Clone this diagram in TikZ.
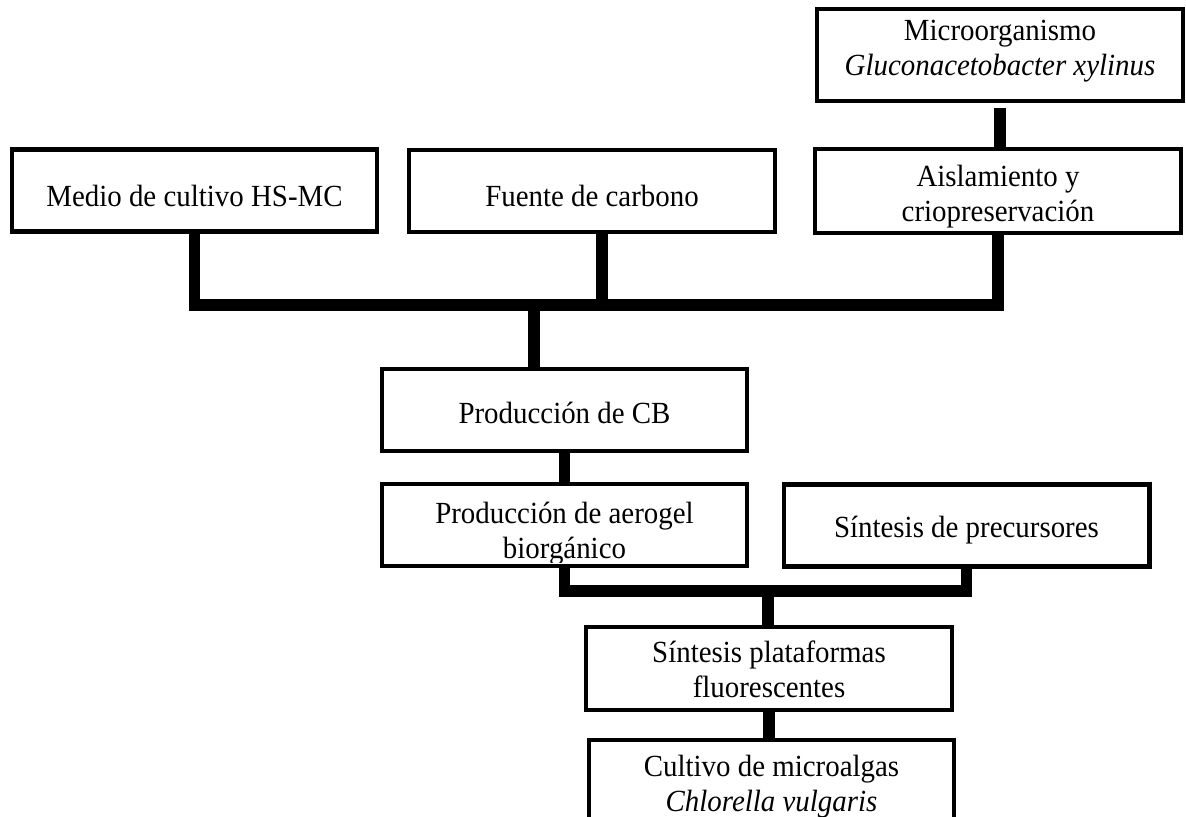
\documentclass[tikz,border=0pt]{standalone}
\usepackage{fontspec}
\setmainfont{Liberation Serif}[FakeStretch = 0.94]
\begin{document}
\begin{tikzpicture}[x = 0.02cm, y = -0.02cm,
		box/.style = {draw, line width = 2.3pt, fill = white,
			minimum width = 7.32cm, minimum height = 1.64cm, inner sep = 0pt},
		txt/.style = {align = center, inner sep = 0pt,
			font = \fontsize{17.5}{20}\selectfont},
		bus/.style = {line width = 6.8pt, line join = miter}]
	\useasboundingbox (0, 0) rectangle (1186, 817);
	% upper row
	\node[box, minimum height = 1.84cm] (micro) at (1000, 55) {};
	\node[box] (medio)  at (194.5, 190.5) {};
	\node[box] (fuente) at (592, 191)     {};
	\node[box, minimum height = 1.68cm] (aisl) at (998, 191) {};
	% middle
	\node[box] (cb)      at (564.5, 410)   {};
	\node[box] (aerogel) at (564.5, 525)   {};
	\node[box] (prec)    at (966.5, 525.5) {};
	% lower
	\node[box, minimum height = 1.66cm] (plat) at (769, 668.5) {};
	\node[box, minimum height = 1.8cm]  (cult) at (771.5, 785) {};
	% texts
	\node[txt] (micro text)  at (1000, 51)  {Microorganismo\\ \textit{Gluconacetobacter xylinus}};
	\node[txt] (medio text)  at (194.5, 196) {Medio de cultivo HS-MC};
	\node[txt] (fuente text) at (592, 196)   {Fuente de carbono};
	\node[txt] (aisl text)   at (998, 197)   {Aislamiento y\\ criopreservación};
	\node[txt] (cb text)     at (564.5, 413) {Producción de CB};
	\node[txt] (prec text)   at (966.5, 530) {Síntesis de precursores};
	\node[txt] (plat text)   at (769, 669)   {Síntesis plataformas\\ fluorescentes};
	\node[txt] (cult text)   at (771.5, 787) {Cultivo de microalgas\\ \textit{Chlorella vulgaris}};
	\begin{scope}
		\clip (aerogel.north west) rectangle ([yshift = 0.12cm]aerogel.south east);
		\node[txt] (aerogel text) at (564.5, 534) {Producción de aerogel\\ biorgánico};
	\end{scope}
	% junctions
	\coordinate (bus1) at (534, 305);
	\coordinate (bus2) at (768, 591);
	% connectors
	\draw[bus] ([yshift = -0.1cm]micro.south) -- (micro.south |- aisl.north);
	\draw[bus] (medio.south) |- (bus1) -| (aisl.south);
	\draw[bus] ([xshift = 0.2cm]fuente.south) -- ([xshift = 0.2cm]fuente.south |- bus1);
	\draw[bus] (bus1) -- (bus1 |- cb.north);
	\draw[bus] (cb.south) -- (aerogel.north);
	\draw[bus] (aerogel.south) |- (bus2) -| (prec.south);
	\draw[bus] (bus2) -- (bus2 |- plat.north);
	\draw[bus] (plat.south) -- (plat.south |- cult.north);
\end{tikzpicture}
\end{document}
